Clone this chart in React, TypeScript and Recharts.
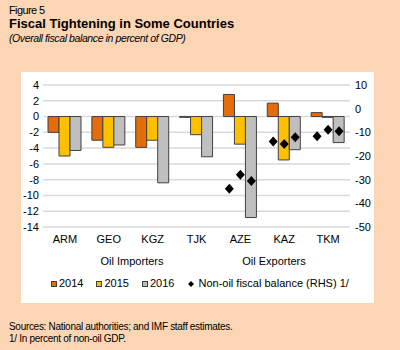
import React from "react";
import {
  ComposedChart,
  Bar,
  Scatter,
  XAxis,
  YAxis,
  CartesianGrid,
  Legend,
} from "recharts";

const countries = ["ARM", "GEO", "KGZ", "TJK", "AZE", "KAZ", "TKM"];
const balance2014 = [-2.0, -3.0, -3.9, -0.1, 2.8, 1.7, 0.5];
const balance2015 = [-5.0, -3.9, -3.0, -2.3, -3.5, -5.5, -0.1];
const balance2016 = [-4.3, -3.6, -8.4, -5.1, -12.8, -4.2, -3.3];
const nonOil2014 = [null, null, null, null, -33.8, -13.9, -11.7];
const nonOil2015 = [null, null, null, null, -27.9, -14.9, -8.9];
const nonOil2016 = [null, null, null, null, -30.6, -12.1, -9.5];
const leftTicks = [4, 2, 0, -2, -4, -6, -8, -10, -12, -14];
const rightTicks = [10, 0, -10, -20, -30, -40, -50];
const groupLabels = ["Oil Importers", "Oil Exporters"];

const data = countries.map((name, i) => ({
  name,
  y2014: balance2014[i],
  y2015: balance2015[i],
  y2016: balance2016[i],
  n2014: nonOil2014[i],
  n2015: nonOil2015[i],
  n2016: nonOil2016[i],
}));

const FONT = "'Liberation Sans', Arial, sans-serif";
const BAR_W = 11;

// diamond drawn at the bar's own slot (offset from category centre)
const diamond = (dx: number, key: string) => (props: any) => {
  const { cx, cy, payload } = props;
  if (!payload || payload[key] == null || !Number.isFinite(cx) || !Number.isFinite(cy)) return <g />;
  const x = cx + dx;
  return (
    <path
      d={`M${x},${cy - 5}L${x + 4.5},${cy}L${x},${cy + 5}L${x - 4.5},${cy}Z`}
      fill="#000"
    />
  );
};

const renderLegend = (props: any) => {
  const items = (props.payload || []).filter((p: any) => p.type !== "none");
  return (
    <div style={{ display: "flex", paddingLeft: 30, fontFamily: FONT, fontSize: 11, lineHeight: "13px" }}>
      {items.map((p: any) => (
        <div key={p.value} style={{ display: "flex", alignItems: "center", marginRight: 13 }}>
          {p.type === "diamond" ? (
            <svg width={6} height={6} style={{ marginRight: 4, marginLeft: 1 }}>
              <path d="M3,0L6,3L3,6L0,3Z" fill="#000" />
            </svg>
          ) : (
            <span
              style={{
                width: 4,
                height: 4,
                background: p.color,
                border: "1px solid #404040",
                marginRight: 2,
                display: "inline-block",
              }}
            />
          )}
          <span>{p.value}</span>
        </div>
      ))}
    </div>
  );
};

export default function App() {
  return (
    <div
      style={{
        position: "absolute",
        left: 0,
        top: 0,
        width: 400,
        height: 350,
        background: "#FCD5B4",
        fontFamily: FONT,
        color: "#000",
      }}
    >
      <div style={{ position: "absolute", left: 9, top: 4, fontSize: 11, letterSpacing: -0.6 }}>Figure 5</div>
      <div style={{ position: "absolute", left: 9, top: 16, fontSize: 13, fontWeight: "bold" }}>
        Fiscal Tightening in Some Countries
      </div>
      <div style={{ position: "absolute", left: 9, top: 32, fontSize: 10.5, fontStyle: "italic", letterSpacing: -0.4 }}>
        (Overall fiscal balance in percent of GDP)
      </div>

      <div style={{ position: "absolute", left: 21, top: 72, width: 353, height: 231, background: "#fff" }}>
        <ComposedChart
          width={353}
          height={231}
          data={data}
          barGap={0}
          margin={{ top: 13, right: 0, left: 0, bottom: 56 }}
        >
          <CartesianGrid vertical={false} stroke="#D9D9D9" strokeWidth={1.5} yAxisId="left" />
          <XAxis
            dataKey="name"
            axisLine={false}
            tickLine={false}
            height={20}
            interval={0}
            tick={{ fontSize: 11, fill: "#000", fontFamily: FONT }}
          />
          <YAxis
            yAxisId="left"
            domain={[-14, 4]}
            ticks={leftTicks}
            interval={0}
            width={22}
            axisLine={false}
            tickLine={false}
            tickSize={2}
            tickMargin={2}
            tick={{ fontSize: 11, fill: "#000", fontFamily: FONT }}
          />
          <YAxis
            yAxisId="right"
            orientation="right"
            domain={[-50, 10]}
            ticks={rightTicks}
            interval={0}
            width={24}
            axisLine={false}
            tickLine={false}
            tickSize={3}
            tickMargin={2}
            tick={{ fontSize: 11, fill: "#000", fontFamily: FONT }}
          />
          <Bar yAxisId="left" dataKey="y2014" name="2014" fill="#E46C0A" stroke="#404040" strokeWidth={1} barSize={BAR_W} legendType="square" isAnimationActive={false} />
          <Bar yAxisId="left" dataKey="y2015" name="2015" fill="#FFC000" stroke="#404040" strokeWidth={1} barSize={BAR_W} legendType="square" isAnimationActive={false} />
          <Bar yAxisId="left" dataKey="y2016" name="2016" fill="#BFBFBF" stroke="#404040" strokeWidth={1} barSize={BAR_W} legendType="square" isAnimationActive={false} />
          <Scatter yAxisId="right" dataKey="n2014" name="Non-oil fiscal balance (RHS) 1/" fill="#000" legendType="diamond" shape={diamond(-BAR_W, "n2014")} isAnimationActive={false} />
          <Scatter yAxisId="right" dataKey="n2015" name="n2015" fill="#000" legendType="none" shape={diamond(0, "n2015")} isAnimationActive={false} />
          <Scatter yAxisId="right" dataKey="n2016" name="n2016" fill="#000" legendType="none" shape={diamond(BAR_W, "n2016")} isAnimationActive={false} />
          <Legend
            verticalAlign="middle"
            align="center"
            layout="horizontal"
            content={renderLegend}
            wrapperStyle={{ left: 0, top: 205, width: 353 }}
          />
        </ComposedChart>
      </div>

      <div style={{ position: "absolute", left: 132 - 60, width: 120, top: 255, fontSize: 11, textAlign: "center" }}>
        {groupLabels[0]}
      </div>
      <div style={{ position: "absolute", left: 274 - 60, width: 120, top: 255, fontSize: 11, textAlign: "center" }}>
        {groupLabels[1]}
      </div>

      <div style={{ position: "absolute", left: 9, top: 321, fontSize: 10, letterSpacing: -0.3, lineHeight: "12px" }}>
        Sources: National authorities; and IMF staff estimates.
        <br />
        1/ In percent of non-oil GDP.
      </div>
    </div>
  );
}
